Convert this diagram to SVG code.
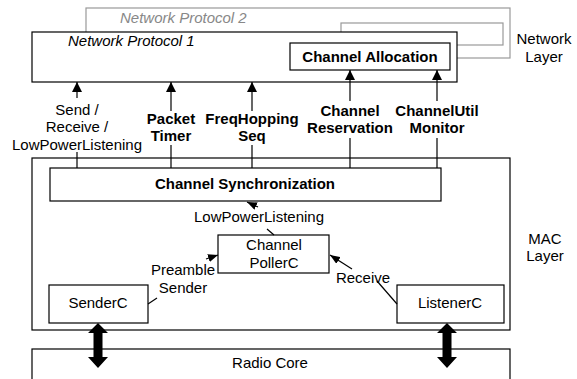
<svg xmlns="http://www.w3.org/2000/svg" width="577" height="379" viewBox="0 0 577 379">
<style>
text{font-family:"Liberation Sans",Arial,sans-serif;font-size:15px;fill:#000;text-anchor:middle}
.b{font-weight:bold}
.it{font-style:italic;text-anchor:start}
.box{fill:#fff;stroke:#000;stroke-width:1.2}
.gbox{fill:#fff;stroke:#999;stroke-width:1.2}
.ln{stroke:#000;stroke-width:1.2;fill:none}
.up{marker-end:url(#ah)}
.sm{marker-end:url(#sh)}
</style>
<defs>
<marker id="ah" markerUnits="userSpaceOnUse" markerWidth="10" markerHeight="10" refX="10" refY="5" orient="auto" viewBox="0 0 10 10"><path d="M0,0 L10,5 L0,10 z" fill="#000"/></marker>
<marker id="sh" markerUnits="userSpaceOnUse" markerWidth="10" markerHeight="8" refX="10" refY="4" orient="auto" viewBox="0 0 10 8"><path d="M0,0 L10,4 L0,8 z" fill="#000"/></marker>
</defs>
<rect width="577" height="379" fill="#fff"/>
<g id="np2">
<rect class="gbox" x="86" y="8" width="424" height="50"/>
<rect class="gbox" x="341" y="23" width="162" height="22"/>
<text class="it" x="120" y="23" style="fill:#888">Network Protocol 2</text>
</g>
<g id="np1">
<rect class="box" x="32" y="32" width="425" height="50"/>
<text class="it" x="68" y="46">Network Protocol 1</text>
</g>
<g id="challoc">
<rect class="box" x="290" y="43" width="160" height="27"/>
<text class="b" x="370" y="62">Channel Allocation</text>
</g>
<g id="netlayer">
<text x="544" y="44">Network</text>
<text x="544" y="61.5">Layer</text>
</g>
<g id="mac">
<rect class="box" x="32" y="158" width="478" height="172"/>
<text x="545" y="243.5">MAC</text>
<text x="545" y="261">Layer</text>
</g>
<g id="chsync">
<rect class="box" x="50" y="168" width="391" height="33"/>
<text class="b" x="245" y="189">Channel Synchronization</text>
</g>
<g id="poller">
<rect class="box" x="218" y="235" width="111" height="38"/>
<text x="274" y="250">Channel</text>
<text x="274" y="268">PollerC</text>
</g>
<g id="sender">
<rect class="box" x="49" y="285" width="99" height="38"/>
<text x="98" y="308">SenderC</text>
</g>
<g id="listener">
<rect class="box" x="397" y="285" width="107" height="38"/>
<text x="450" y="308">ListenerC</text>
</g>
<g id="radio">
<rect class="box" x="32" y="349" width="478" height="40"/>
<text x="270" y="368">Radio Core</text>
</g>
<g id="connectors">
<line class="ln up" x1="77" y1="98" x2="77" y2="82"/>
<line class="ln" x1="77" y1="152" x2="77" y2="168"/>
<line class="ln up" x1="171" y1="111" x2="171" y2="82"/>
<line class="ln" x1="171" y1="145" x2="171" y2="168"/>
<line class="ln up" x1="252" y1="111" x2="252" y2="82"/>
<line class="ln" x1="252" y1="145" x2="252" y2="168"/>
<line class="ln up" x1="350" y1="101" x2="350" y2="70"/>
<line class="ln" x1="350" y1="138" x2="350" y2="168"/>
<line class="ln up" x1="437" y1="101" x2="437" y2="70"/>
<line class="ln" x1="437" y1="138" x2="437" y2="168"/>
<line class="ln" x1="274" y1="235" x2="267" y2="229"/>
<line class="ln sm" x1="258" y1="207" x2="247" y2="202"/>
<line class="ln" x1="148" y1="304" x2="157" y2="298"/>
<line class="ln sm" x1="206" y1="259" x2="218" y2="255"/>
<line class="ln" x1="397" y1="304" x2="377" y2="281"/>
<line class="ln sm" x1="352" y1="269" x2="330" y2="255"/>
<polygon points="98,323 108,333 102.5,333 102.5,357 108,357 98,368 88,357 93.5,357 93.5,333 88,333" fill="#000"/>
<polygon points="447,323 457,333 451.5,333 451.5,357 457,357 447,368 437,357 442.5,357 442.5,333 437,333" fill="#000"/>
</g>
<g id="labels">
<text x="77" y="114.5">Send /</text>
<text x="77" y="132.3">Receive /</text>
<text x="77" y="150">LowPowerListening</text>
<text class="b" x="171" y="124">Packet</text>
<text class="b" x="171" y="141">Timer</text>
<text class="b" x="252" y="124">FreqHopping</text>
<text class="b" x="252" y="141">Seq</text>
<text class="b" x="350" y="115.5">Channel</text>
<text class="b" x="350" y="133">Reservation</text>
<text class="b" x="437" y="115.5">ChannelUtil</text>
<text class="b" x="437" y="133">Monitor</text>
<text x="259" y="222">LowPowerListening</text>
<text x="183" y="275">Preamble</text>
<text x="183" y="293">Sender</text>
<text x="363" y="283">Receive</text>
</g>
</svg>
